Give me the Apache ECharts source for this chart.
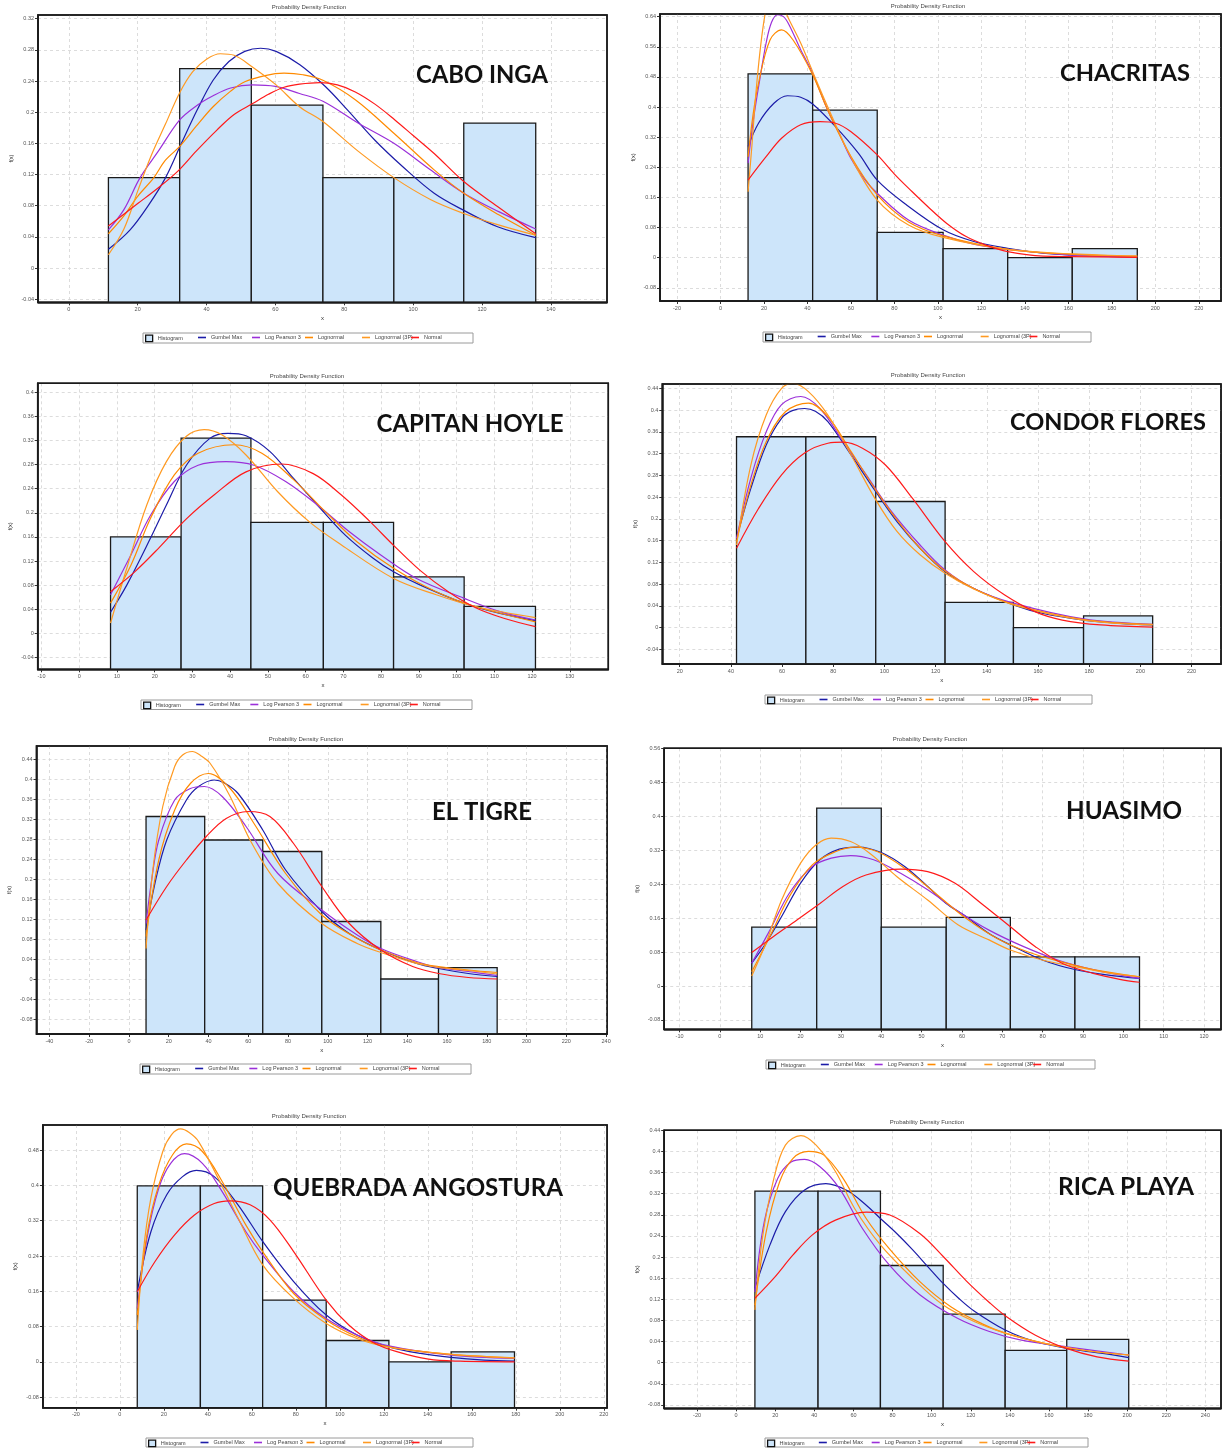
<!DOCTYPE html>
<html><head><meta charset="utf-8">
<script src="https://cdn.jsdelivr.net/npm/echarts@6/dist/echarts.min.js"></script>
<style>html,body{margin:0;padding:0;background:#fff}#c{width:1222px;height:1450px}</style>
</head><body><div id="c"></div><script>
// ---------- DATA ----------
const seriesNames = ['Histogram','Gumbel Max','Log Pearson 3','Lognormal','Lognormal (3P)','Normal'];
const stationNames = ['CABO INGA','CHACRITAS','CAPITAN HOYLE','CONDOR FLORES','EL TIGRE','HUASIMO','QUEBRADA ANGOSTURA','RICA PLAYA'];
const chartTitle = 'Probability Density Function';

// CABO INGA
const caboEdges = [11.5, 32.2, 53.0, 73.8, 94.4, 114.7, 135.6];
const caboHist = [0.116, 0.256, 0.209, 0.116, 0.116, 0.186];
const caboGumbel = [[11.5,0.024],[17.8,0.049],[23.5,0.083],[28.1,0.116],[32.7,0.160],[37.3,0.203],[41.9,0.241],[46.5,0.265],[51.1,0.278],[55.7,0.282],[60.2,0.278],[67.1,0.261],[74.5,0.233],[80.9,0.203],[88.9,0.164],[97,0.130],[106.1,0.096],[114.7,0.074],[124.5,0.053],[135.6,0.039]];
const caboLP3 = [[11.5,0.049],[16,0.075],[20.7,0.116],[26,0.150],[32.2,0.190],[37,0.208],[41.9,0.221],[47,0.231],[53.4,0.235],[60,0.233],[67,0.224],[73.8,0.214],[84,0.186],[94.4,0.160],[105,0.126],[114.7,0.096],[125,0.072],[135.6,0.050]];
const caboLogn = [[11.5,0.044],[16,0.067],[20,0.092],[24.7,0.116],[28,0.138],[32.2,0.156],[37,0.182],[41.9,0.207],[47,0.227],[51.1,0.239],[57,0.247],[62.5,0.250],[68,0.248],[73.8,0.241],[83.2,0.216],[94.4,0.173],[106.1,0.126],[114.7,0.096],[125,0.068],[135.6,0.042]];
const caboLogn3P = [[11.5,0.017],[16,0.05],[20.1,0.10],[24,0.145],[28.1,0.185],[32.2,0.225],[36,0.252],[40,0.268],[44,0.275],[48,0.273],[53,0.259],[60.2,0.235],[67,0.207],[73.8,0.188],[84,0.150],[94.4,0.116],[105,0.088],[114.7,0.070],[125,0.055],[135.6,0.042]];
const caboNormal = [[11.5,0.054],[20.1,0.083],[26,0.103],[31.6,0.124],[37,0.150],[43,0.177],[48,0.197],[53.4,0.211],[58,0.223],[62.5,0.232],[67,0.236],[72.9,0.238],[78,0.235],[83.2,0.226],[89,0.210],[94.7,0.190],[100,0.170],[106.1,0.147],[114.7,0.111],[124.5,0.079],[135.6,0.044]];
const caboXTicks = [0,20,40,60,80,100,120,140];
const caboYTicks = [-0.04,0,0.04,0.08,0.12,0.16,0.2,0.24,0.28,0.32];

// CHACRITAS
const chacEdges = [12.7, 42.4, 72.1, 102.4, 132.1, 161.8, 191.7];
const chacHist = [0.488, 0.392, 0.067, 0.024, 0.0, 0.024];
const chacGumbel = [[12.7,0.295],[17.5,0.357],[24.6,0.410],[30.8,0.430],[36.9,0.426],[42.4,0.408],[52.9,0.348],[63.5,0.277],[72.1,0.206],[84.7,0.144],[102.4,0.074],[116.5,0.043],[132.1,0.025],[148.3,0.012],[161.8,0.007],[191.7,0.002]];
const chacLP3 = [[12.7,0.251],[15,0.36],[18,0.47],[21,0.57],[23.5,0.625],[26.3,0.645],[29,0.640],[31.6,0.618],[36.9,0.552],[42.4,0.49],[49.3,0.392],[55,0.325],[59.9,0.265],[66,0.210],[72.1,0.171],[86.5,0.100],[102.4,0.060],[117,0.035],[132.1,0.022],[161.8,0.007],[191.7,0.003]];
const chacLogn = [[12.7,0.268],[15,0.38],[17.5,0.463],[22.8,0.578],[28.1,0.605],[33.4,0.578],[42.4,0.486],[49.3,0.392],[59.9,0.270],[72.1,0.167],[86.5,0.095],[102.4,0.058],[132.1,0.022],[161.8,0.009],[191.7,0.004]];
const chacLogn3P = [[12.7,0.175],[14.5,0.30],[16.5,0.45],[19.3,0.60],[22,0.685],[24.6,0.705],[27.5,0.69],[30.5,0.645],[36.9,0.57],[42.4,0.494],[49.3,0.401],[59.9,0.268],[72.1,0.153],[86.5,0.087],[102.4,0.054],[132.1,0.022],[161.8,0.010],[191.7,0.004]];
const chacNormal = [[12.7,0.206],[21,0.268],[28.1,0.317],[36.9,0.353],[45.8,0.361],[52.9,0.357],[59.9,0.335],[72.1,0.273],[80,0.222],[88.2,0.175],[95.3,0.136],[104.1,0.091],[113,0.056],[121.8,0.034],[132.1,0.016],[148.3,0.004],[161.8,0.003],[191.7,0.001]];
const chacXTicks = [-20,0,20,40,60,80,100,120,140,160,180,200,220];
const chacYTicks = [-0.08,0,0.08,0.16,0.24,0.32,0.4,0.48,0.56,0.64];

// CAPITAN HOYLE
const capEdges = [8.3, 27.0, 45.5, 64.7, 83.3, 102.0, 120.9];
const capHist = [0.160, 0.324, 0.184, 0.184, 0.0935, 0.0448];
const capGumbel = [[8.3,0.035],[12.6,0.080],[18.9,0.158],[23.1,0.213],[28.4,0.279],[34.7,0.324],[39.4,0.332],[44.2,0.328],[50.5,0.302],[56.8,0.257],[63.1,0.213],[70.5,0.163],[77.8,0.125],[83.3,0.102],[90.4,0.080],[102,0.050],[111.5,0.033],[120.9,0.021]];
const capLP3 = [[8.3,0.064],[13.7,0.130],[18.9,0.196],[25.2,0.252],[31.5,0.279],[38.9,0.285],[46.3,0.279],[54.7,0.252],[63.1,0.213],[71.5,0.169],[79.9,0.130],[89.4,0.091],[102,0.058],[111.5,0.036],[120.9,0.022]];
const capLogn = [[8.3,0.050],[13.7,0.113],[18.9,0.191],[25.2,0.263],[31.5,0.299],[41,0.313],[48.4,0.299],[56.8,0.255],[65.2,0.202],[73.6,0.152],[83.3,0.108],[94.6,0.069],[105.2,0.044],[120.9,0.019]];
const capLogn3P = [[8.3,0.017],[12.6,0.108],[17.9,0.213],[23.1,0.285],[28.4,0.327],[33.1,0.338],[37.9,0.329],[44.2,0.296],[52.6,0.235],[61,0.185],[69.4,0.147],[83.3,0.091],[94.6,0.064],[105.2,0.044],[120.9,0.026]];
const capNormal = [[8.3,0.069],[14.7,0.102],[21,0.141],[28.4,0.190],[35.8,0.230],[44.2,0.268],[53.6,0.281],[62,0.265],[69.4,0.230],[76.8,0.187],[83.3,0.146],[90.4,0.104],[97.8,0.069],[105.2,0.042],[112.5,0.025],[120.9,0.011]];
const capXTicks = [-10,0,10,20,30,40,50,60,70,80,90,100,110,120,130];
const capYTicks = [-0.04,0,0.04,0.08,0.12,0.16,0.2,0.24,0.28,0.32,0.36,0.4];

// CONDOR FLORES
const conEdges = [42.2, 69.3, 96.6, 123.7, 150.4, 177.8, 204.8];
const conHist = [0.351, 0.351, 0.232, 0.0466, 0.0, 0.0215];
const conGumbel = [[42.2,0.164],[47.8,0.256],[53.8,0.336],[59.8,0.385],[64,0.399],[68.8,0.403],[73,0.398],[77.9,0.379],[86.9,0.318],[96.6,0.250],[104.9,0.195],[113.9,0.146],[123.7,0.103],[134.9,0.072],[150.4,0.042],[162,0.026],[177.8,0.014],[192,0.008],[204.8,0.005]];
const conLP3 = [[42.2,0.164],[47.8,0.275],[53.8,0.360],[59.8,0.410],[67.3,0.425],[74.8,0.403],[83.9,0.342],[92.9,0.281],[101.9,0.219],[113.9,0.152],[123.7,0.106],[134.9,0.072],[150.4,0.045],[177.8,0.016],[204.8,0.006]];
const conLogn = [[42.2,0.158],[47.8,0.262],[53.8,0.342],[61.3,0.397],[70.3,0.413],[77.9,0.388],[86.9,0.324],[96.6,0.253],[104.9,0.198],[113.9,0.146],[123.7,0.104],[134.9,0.072],[150.4,0.043],[177.8,0.015],[204.8,0.006]];
const conLogn3P = [[42.2,0.152],[47.8,0.299],[53.8,0.391],[59.8,0.44],[64.3,0.449],[70.3,0.434],[77.9,0.391],[86.9,0.318],[96.6,0.235],[104.9,0.177],[113.9,0.134],[123.7,0.100],[134.9,0.071],[150.4,0.042],[177.8,0.014],[204.8,0.005]];
const conNormal = [[42.2,0.146],[50.8,0.219],[59.8,0.281],[68.8,0.321],[77.9,0.339],[83.9,0.341],[91.4,0.330],[100.4,0.299],[110.9,0.238],[123.7,0.158],[134.9,0.103],[147,0.060],[159,0.029],[169.5,0.014],[184.5,0.005],[204.8,0.001]];
const conXTicks = [20,40,60,80,100,120,140,160,180,200,220];
const conYTicks = [-0.04,0,0.04,0.08,0.12,0.16,0.2,0.24,0.28,0.32,0.36,0.4,0.44];

// EL TIGRE
const tigEdges = [8.6, 38.1, 67.3, 97.0, 126.7, 155.7, 185.2];
const tigHist = [0.325, 0.278, 0.255, 0.115, 0.0, 0.0227];
const tigGumbel = [[8.6,0.098],[13,0.19],[19,0.278],[28.9,0.358],[35,0.385],[42.9,0.398],[48,0.392],[54.9,0.371],[67.3,0.298],[78.8,0.218],[97,0.135],[110.8,0.091],[126.7,0.058],[144.7,0.031],[155.7,0.021],[170.7,0.011],[185.2,0.005]];
const tigLP3 = [[8.6,0.111],[11.5,0.20],[15,0.278],[23,0.358],[30.9,0.381],[37.9,0.385],[46.9,0.365],[58.9,0.305],[74.9,0.211],[97,0.138],[114.8,0.088],[126.7,0.061],[144.7,0.035],[155.7,0.023],[170.7,0.015],[185.2,0.007]];
const tigLogn = [[8.6,0.085],[15,0.238],[23,0.338],[30.9,0.391],[39.9,0.411],[50.9,0.381],[62.9,0.311],[78.8,0.211],[97,0.128],[114.8,0.081],[126.7,0.058],[144.7,0.033],[155.7,0.025],[170.7,0.018],[185.2,0.013]];
const tigLogn3P = [[8.6,0.061],[12,0.218],[17,0.345],[23,0.425],[27,0.448],[31.9,0.455],[36,0.447],[40.9,0.431],[50.9,0.365],[60.9,0.278],[74.9,0.191],[97,0.111],[114.8,0.071],[126.7,0.053],[144.7,0.031],[155.7,0.023],[170.7,0.017],[185.2,0.010]];
const tigNormal = [[8.6,0.118],[19,0.185],[28.9,0.238],[38.9,0.285],[48.9,0.321],[59.9,0.335],[70.9,0.325],[82.8,0.271],[97,0.185],[110.8,0.111],[126.7,0.058],[142.7,0.025],[155.7,0.011],[170.7,0.003],[185.2,0.0]];
const tigXTicks = [-40,-20,0,20,40,60,80,100,120,140,160,180,200,220,240];
const tigYTicks = [-0.08,-0.04,0,0.04,0.08,0.12,0.16,0.2,0.24,0.28,0.32,0.36,0.4,0.44];

// HUASIMO
const huaEdges = [7.9, 24.0, 40.0, 56.1, 72.0, 88.0, 104.0];
const huaHist = [0.139, 0.420, 0.139, 0.162, 0.069, 0.069];
const huaGumbel = [[7.9,0.054],[11.4,0.101],[15.3,0.164],[20,0.243],[24.8,0.298],[29.6,0.323],[34.3,0.328],[40,0.315],[45.8,0.282],[51.5,0.235],[56.1,0.195],[61,0.164],[66.7,0.124],[72,0.097],[80.1,0.061],[88,0.039],[96.3,0.026],[104,0.018]];
const huaLP3 = [[7.9,0.054],[12.4,0.132],[17.2,0.219],[22.9,0.282],[27.6,0.302],[32.4,0.308],[38.1,0.298],[44.8,0.266],[51.5,0.227],[59.1,0.176],[66.7,0.132],[75.3,0.093],[83.9,0.061],[92.5,0.039],[104,0.018]];
const huaLogn = [[7.9,0.034],[12.4,0.117],[17.2,0.211],[22.9,0.286],[28.6,0.317],[33.4,0.328],[39.1,0.317],[45.8,0.278],[53.4,0.219],[61,0.160],[68.6,0.113],[76.2,0.081],[83.9,0.059],[92.5,0.039],[104,0.022]];
const huaLogn3P = [[7.9,0.024],[11.4,0.101],[15.3,0.203],[20,0.290],[23.8,0.333],[27.6,0.349],[32.4,0.341],[37.2,0.313],[43.9,0.258],[51.5,0.203],[59.1,0.144],[66.7,0.109],[72,0.085],[80.1,0.061],[88,0.046],[96.3,0.031],[104,0.022]];
const huaNormal = [[7.9,0.079],[13.3,0.117],[19.1,0.156],[24.8,0.195],[30.5,0.235],[36.2,0.262],[44.8,0.276],[51.5,0.270],[58.2,0.243],[64.8,0.195],[72,0.140],[78.2,0.093],[84.8,0.054],[92.5,0.030],[99.1,0.016],[104,0.009]];
const huaXTicks = [-10,0,10,20,30,40,50,60,70,80,90,100,110,120];
const huaYTicks = [-0.08,0,0.08,0.16,0.24,0.32,0.4,0.48,0.56];

// QUEBRADA ANGOSTURA
const queEdges = [7.9, 36.6, 64.9, 93.8, 122.3, 150.6, 179.4];
const queHist = [0.399, 0.399, 0.140, 0.0484, 0.0, 0.0227];
const queGumbel = [[7.9,0.159],[14.1,0.295],[21.3,0.379],[28.5,0.420],[34.8,0.434],[42.9,0.420],[53.7,0.356],[64.9,0.273],[79,0.182],[93.8,0.106],[107.8,0.061],[122.3,0.034],[136.7,0.019],[150.6,0.010],[165.5,0.004],[179.4,0.0015]];
const queLP3 = [[7.9,0.121],[12.3,0.280],[17.7,0.394],[23.1,0.450],[29.4,0.472],[37.5,0.450],[46.5,0.386],[57.3,0.295],[64.9,0.242],[79,0.159],[93.8,0.098],[107.8,0.061],[122.3,0.036],[150.6,0.015],[179.4,0.0076]];
const queLogn = [[7.9,0.106],[12.3,0.288],[17.7,0.401],[23.9,0.469],[30.3,0.494],[37.5,0.477],[46.5,0.409],[57.3,0.310],[64.9,0.250],[79,0.155],[93.8,0.095],[107.8,0.057],[122.3,0.034],[150.6,0.017],[179.4,0.009]];
const queLogn3P = [[7.9,0.072],[10.5,0.242],[14.1,0.371],[19.5,0.477],[23.5,0.515],[27.6,0.528],[31.5,0.520],[35.7,0.50],[44.7,0.416],[53.7,0.326],[64.9,0.220],[79,0.144],[93.8,0.087],[107.8,0.053],[122.3,0.033],[150.6,0.017],[179.4,0.009]];
const queNormal = [[7.9,0.159],[15.9,0.227],[24.9,0.288],[33.9,0.333],[42.9,0.359],[50.1,0.365],[59.2,0.356],[68.2,0.322],[79,0.250],[93.8,0.140],[104.2,0.083],[115.1,0.044],[125.9,0.023],[140.3,0.006],[154.7,0.0015],[179.4,0.0]];
const queXTicks = [-20,0,20,40,60,80,100,120,140,160,180,200,220];
const queYTicks = [-0.08,0,0.08,0.16,0.24,0.32,0.4,0.48];

// RICA PLAYA
const ricEdges = [9.6, 41.9, 73.8, 105.9, 137.6, 169.1, 200.8];
const ricHist = [0.325, 0.325, 0.184, 0.092, 0.0233, 0.0442];
const ricGumbel = [[9.6,0.141],[17.3,0.223],[25.2,0.286],[35,0.327],[45.9,0.339],[56.7,0.326],[66,0.300],[73.8,0.273],[82,0.245],[90.2,0.214],[98,0.182],[105.9,0.150],[113.8,0.122],[121.7,0.098],[137.6,0.062],[153,0.040],[169,0.027],[186.6,0.018],[200.8,0.0095]];
const ricLP3 = [[9.6,0.134],[14.4,0.267],[21.3,0.349],[28.1,0.380],[35,0.385],[42.9,0.371],[52.8,0.330],[64.6,0.254],[78.3,0.185],[94.1,0.128],[113.2,0.084],[129.5,0.059],[145.3,0.043],[169.1,0.030],[200.8,0.0145]];
const ricLogn = [[9.6,0.109],[15.4,0.248],[22.3,0.343],[29.1,0.387],[37,0.40],[44.9,0.393],[54.7,0.349],[66.5,0.273],[78.3,0.216],[94.1,0.153],[109.8,0.106],[125.6,0.074],[137.6,0.056],[157.1,0.037],[176.8,0.024],[200.8,0.0145]];
const ricLogn3P = [[9.6,0.10],[13.4,0.235],[19.3,0.349],[25.2,0.412],[33.1,0.43],[40.9,0.412],[50.8,0.362],[60.6,0.292],[73.8,0.223],[90.2,0.160],[105.9,0.109],[121.7,0.078],[137.6,0.056],[157.1,0.037],[176.8,0.024],[200.8,0.0145]];
const ricNormal = [[9.6,0.122],[19.3,0.160],[29.1,0.204],[39,0.242],[50.8,0.270],[66.5,0.285],[78.3,0.280],[94.1,0.244],[105.9,0.201],[117.7,0.155],[129.5,0.114],[137.6,0.089],[153.1,0.052],[168.9,0.027],[184.6,0.011],[200.8,0.003]];
const ricXTicks = [-20,0,20,40,60,80,100,120,140,160,180,200,220,240];
const ricYTicks = [-0.08,-0.04,0,0.04,0.08,0.12,0.16,0.2,0.24,0.28,0.32,0.36,0.4,0.44];

// ---------- LAYOUT / STYLE ----------
const lineColors = ['#1c1ca8','#9b30d9','#ff8a00','#ff9a22','#ff1a1a'];
const layouts = [
  {left:38, top:15, right:607, bottom:302.3, xMin:-8.95, xMax:156.3, yMin:-0.044, yMax:0.3247, tx:309, ty:7, sx:482, sy:75, sw:132, lx:143, ly:333, lw:330, lh:10},
  {left:660, top:14, right:1221, bottom:301, xMin:-27.8, xMax:230.2, yMin:-0.115, yMax:0.647, tx:928, ty:6, sx:1125, sy:73, sw:130, lx:763, ly:332, lw:328, lh:10},
  {left:37.7, top:383.3, right:608.3, bottom:669.3, xMin:-11.0, xMax:140.2, yMin:-0.0598, yMax:0.415, tx:307, ty:376, sx:470, sy:424, sw:187, lx:141, ly:700, lw:331, lh:9.5},
  {left:662.3, top:384, right:1221, bottom:664, xMin:13.2, xMax:231.5, yMin:-0.0668, yMax:0.448, tx:928, ty:375, sx:1108, sy:422, sw:196, lx:765, ly:695, lw:327, lh:9},
  {left:36.5, top:746, right:607.1, bottom:1034, xMin:-46.5, xMax:240.5, yMin:-0.11, yMax:0.466, tx:306, ty:739, sx:482, sy:812, sw:100, lx:140, ly:1064, lw:331, lh:10},
  {left:664.2, top:748.3, right:1221, bottom:1029.3, xMin:-13.8, xMax:124.2, yMin:-0.102, yMax:0.561, tx:930, ty:739, sx:1124, sy:811, sw:116, lx:766, ly:1060, lw:329, lh:9},
  {left:42.9, top:1125, right:607.1, bottom:1407.7, xMin:-35, xMax:221.5, yMin:-0.104, yMax:0.537, tx:309, ty:1116, sx:418, sy:1188, sw:290, lx:146, ly:1438, lw:327, lh:9},
  {left:664.2, top:1130.3, right:1221, bottom:1408.3, xMin:-36.8, xMax:248, yMin:-0.0864, yMax:0.44, tx:927, ty:1122, sx:1126, sy:1187, sw:136, lx:765, ly:1438, lw:323, lh:9}
];

const panels = [
  {edges:caboEdges, hist:caboHist, curves:[caboGumbel,caboLP3,caboLogn,caboLogn3P,caboNormal], xTicks:caboXTicks, yTicks:caboYTicks},
  {edges:chacEdges, hist:chacHist, curves:[chacGumbel,chacLP3,chacLogn,chacLogn3P,chacNormal], xTicks:chacXTicks, yTicks:chacYTicks},
  {edges:capEdges, hist:capHist, curves:[capGumbel,capLP3,capLogn,capLogn3P,capNormal], xTicks:capXTicks, yTicks:capYTicks},
  {edges:conEdges, hist:conHist, curves:[conGumbel,conLP3,conLogn,conLogn3P,conNormal], xTicks:conXTicks, yTicks:conYTicks},
  {edges:tigEdges, hist:tigHist, curves:[tigGumbel,tigLP3,tigLogn,tigLogn3P,tigNormal], xTicks:tigXTicks, yTicks:tigYTicks},
  {edges:huaEdges, hist:huaHist, curves:[huaGumbel,huaLP3,huaLogn,huaLogn3P,huaNormal], xTicks:huaXTicks, yTicks:huaYTicks},
  {edges:queEdges, hist:queHist, curves:[queGumbel,queLP3,queLogn,queLogn3P,queNormal], xTicks:queXTicks, yTicks:queYTicks},
  {edges:ricEdges, hist:ricHist, curves:[ricGumbel,ricLP3,ricLogn,ricLogn3P,ricNormal], xTicks:ricXTicks, yTicks:ricYTicks}
];

const smallFont = '"Liberation Sans", Arial, sans-serif';
const bigFont = 'Lato, "Open Sans", sans-serif';
const legendOffsets = [2, 55, 109, 162, 219, 268];
const measureCtx = document.createElement('canvas').getContext('2d');
function fitFontSize(text, width) {
  measureCtx.font = 'bold 100px ' + bigFont;
  const w = measureCtx.measureText(text).width || 500;
  return Math.max(10, Math.min(36, 100 * width / w));
}

const option = {animation:false, grid:[], xAxis:[], yAxis:[], series:[], legend:[], graphic:[]};

panels.forEach((p, i) => {
  const L = layouts[i];
  option.grid.push({left:L.left, top:L.top, width:L.right-L.left, height:L.bottom-L.top,
    show:true, borderColor:'#1a1a1a', borderWidth:1.5, backgroundColor:'#fff', containLabel:false, outerBoundsMode:'none'});
  option.xAxis.push({gridIndex:i, type:'value', min:L.xMin, max:L.xMax,
    name:'x', nameLocation:'middle', nameGap:13, nameTextStyle:{fontSize:6, color:'#333', fontFamily:smallFont},
    axisLine:{show:true, onZero:false, lineStyle:{color:'#1a1a1a', width:1.5}},
    axisTick:{show:true, length:3, customValues:p.xTicks, lineStyle:{color:'#333', width:1}},
    axisLabel:{show:true, customValues:p.xTicks, fontSize:5.5, color:'#555', margin:4, fontFamily:smallFont},
    splitLine:{show:true, lineStyle:{color:'#d4d4d4', type:[3,3], width:0.8}}});
  option.yAxis.push({gridIndex:i, type:'value', min:L.yMin, max:L.yMax,
    name:'f(x)', nameLocation:'middle', nameGap:24, nameRotate:90, nameTextStyle:{fontSize:5.5, color:'#333', fontFamily:smallFont},
    axisLine:{show:true, onZero:false, lineStyle:{color:'#1a1a1a', width:1.5}},
    axisTick:{show:true, length:3, customValues:p.yTicks, lineStyle:{color:'#333', width:1}},
    axisLabel:{show:true, customValues:p.yTicks, fontSize:5.5, color:'#555', margin:4, fontFamily:smallFont,
      formatter: v => String(+(+v).toFixed(4))},
    splitLine:{show:true, lineStyle:{color:'#d4d4d4', type:[3,3], width:0.8}}});

  const histData = p.hist.map((h, k) => [p.edges[k], p.edges[k+1], h]);
  option.series.push({type:'custom', name:'Histogram', xAxisIndex:i, yAxisIndex:i, z:2, clip:true,
    itemStyle:{color:'#cde5fa', borderColor:'#111', borderWidth:1.3},
    encode:{x:[0,1], y:2},
    data:histData,
    renderItem:(params, api) => {
      const a = api.coord([api.value(0), api.value(2)]);
      const b = api.coord([api.value(1), api.value(2)]);
      const bottom = params.coordSys.y + params.coordSys.height;
      return {type:'rect', shape:{x:a[0], y:a[1], width:b[0]-a[0], height:bottom-a[1]},
        style:{fill:'#cde5fa', stroke:'#1a1a1a', lineWidth:1.3}};
    }});
  p.curves.forEach((c, k) => {
    option.series.push({type:'line', name:seriesNames[k+1], xAxisIndex:i, yAxisIndex:i, z:3+k,
      data:c, smooth:0.35, showSymbol:false, symbol:'none', clip:true,
      itemStyle:{color:lineColors[k]}, lineStyle:{color:lineColors[k], width:1.2}});
  });

  // solid plot frame on top of split lines
  option.graphic.push({type:'rect', z:30, silent:true,
    shape:{x:L.left, y:L.top, width:L.right-L.left, height:L.bottom-L.top},
    style:{fill:'none', stroke:'#1a1a1a', lineWidth:1.5}});

  option.graphic.push({type:'rect', z:1, shape:{x:L.lx, y:L.ly, width:L.lw, height:L.lh},
    style:{fill:'#fff', stroke:'#9a9a9a', lineWidth:1}});
  seriesNames.forEach((nm, k) => {
    const scale = L.lw / 330;
    option.legend.push({left:L.lx + legendOffsets[k]*scale, top:L.ly + 1.5, padding:0, itemGap:0,
      itemWidth: k===0 ? 7 : 8, itemHeight: k===0 ? 6.5 : 7, selectedMode:false, z:10,
      textStyle:{fontSize:5.5, color:'#444', fontFamily:smallFont},
      data:[k===0 ? {name:nm, icon:'rect', itemStyle:{color:'#cde5fa', borderColor:'#111', borderWidth:1.3}}
                  : {name:nm, icon:'path://M0,0H10V2H0Z', itemStyle:{color:lineColors[k-1]}}]});
  });
  option.graphic.push({type:'text', x:L.tx, y:L.ty, z:20,
    style:{text:chartTitle, font:'6px ' + smallFont, fill:'#444', align:'center', verticalAlign:'middle'}});
  const fs = fitFontSize(stationNames[i], L.sw);
  option.graphic.push({type:'text', x:L.sx, y:L.sy, z:50,
    style:{text:stationNames[i], font:'bold ' + fs.toFixed(2) + 'px ' + bigFont, fill:'#111', align:'center', verticalAlign:'middle'}});
});

const chart = echarts.init(document.getElementById('c'), null, {renderer:'canvas'});
chart.setOption(option);
</script></body></html>
